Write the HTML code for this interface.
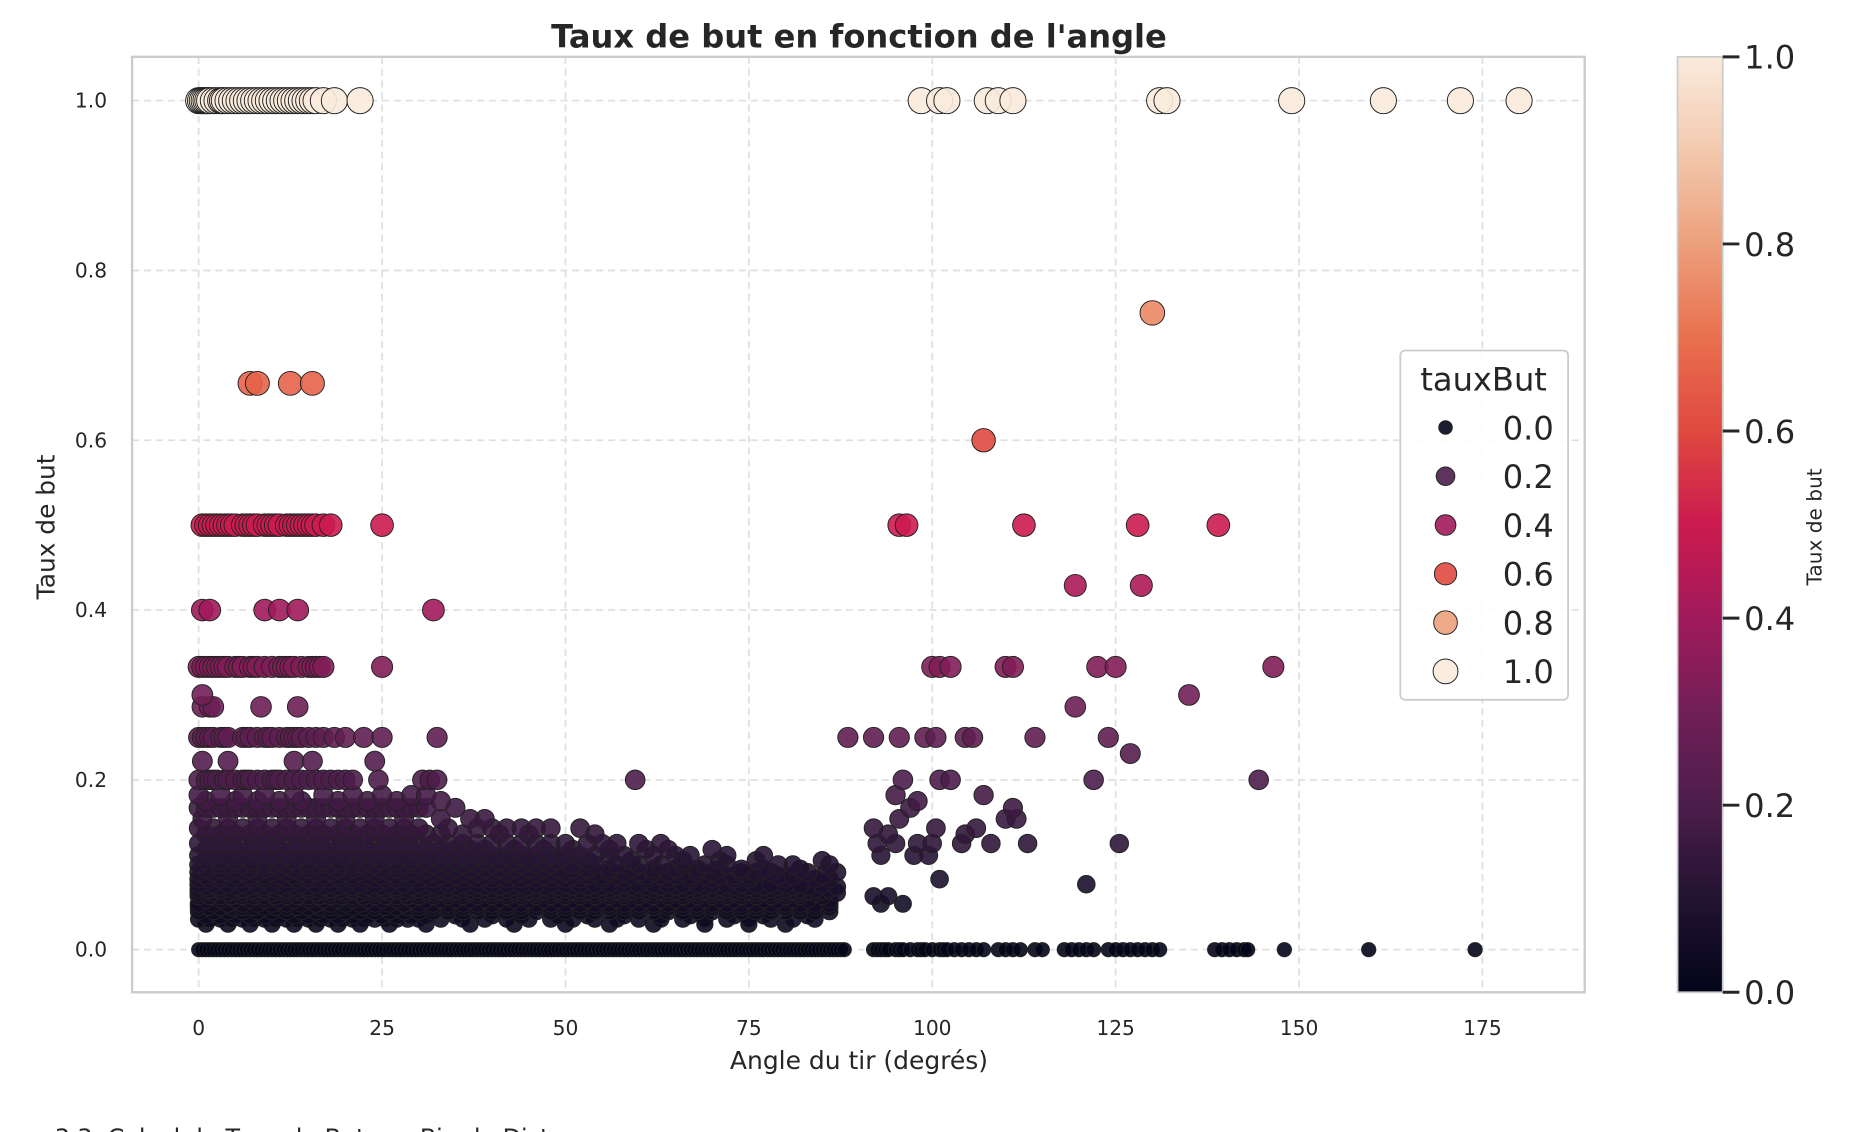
<!DOCTYPE html>
<html><head><meta charset="utf-8"><style>
html,body{margin:0;padding:0;background:#fff;width:1856px;height:1132px;overflow:hidden}
svg text{font-family:"DejaVu Sans","Liberation Sans",sans-serif;fill:#262626}
</style></head><body>
<svg id="chart" width="1856" height="1132" viewBox="0 0 1560 956" preserveAspectRatio="none" xmlns="http://www.w3.org/2000/svg">
<defs>
<linearGradient id="rocket" x1="0" y1="1" x2="0" y2="0">
<stop offset="0" stop-color="#03051a"/><stop offset="0.1" stop-color="#221331"/><stop offset="0.2" stop-color="#4c1d4b"/><stop offset="0.3" stop-color="#711f57"/><stop offset="0.4" stop-color="#a11a5b"/><stop offset="0.5" stop-color="#cb1b4f"/><stop offset="0.6" stop-color="#e0493f"/><stop offset="0.7" stop-color="#e9704f"/><stop offset="0.8" stop-color="#eca07c"/><stop offset="0.9" stop-color="#f3c9ae"/><stop offset="1" stop-color="#faebdd"/>
</linearGradient>
</defs>
<g id="grid"></g>
<g id="points"></g>
<rect x="111" y="48" width="1221" height="790" fill="none" stroke="#cccccc" stroke-width="2"/>
<g id="xticks"></g>
<g id="yticks"></g>
<text x="722" y="40" text-anchor="middle" font-size="27" font-weight="bold">Taux de but en fonction de l'angle</text>
<text x="722" y="903" text-anchor="middle" font-size="21">Angle du tir (degrés)</text>
<text transform="translate(46,445) rotate(-90)" text-anchor="middle" font-size="21">Taux de but</text>
<g id="legend">
<rect x="1177" y="296" width="141" height="295" rx="4" fill="#fff" fill-opacity="0.85" stroke="#cccccc" stroke-width="1.5"/>
<text x="1247" y="330" text-anchor="middle" font-size="27">tauxBut</text>
</g>
<rect x="1410" y="48" width="38" height="790" fill="url(#rocket)" stroke="#cccccc" stroke-width="1.5"/>
<g id="cbticks"></g>
<text transform="translate(1531,445) rotate(-90)" text-anchor="middle" font-size="17">Taux de but</text>
<text x="46" y="968" font-size="20">3.3. Calcul du Taux de But par Bin de Distance</text>
</svg>
<script>
const xTicks=[0,25,50,75,100,125,150,175];
const yTicks=[0,0.2,0.4,0.6,0.8,1.0];
const legendValues=[0,0.2,0.4,0.6,0.8,1.0];
const rateLevels=[1.0,0.75,0.667,0.6,0.5,0.429,0.4,0.333,0.3,0.286,0.25,0.231,0.222,0.2,0.182,0.175,0.167,0.154,0.143,0.136,0.125,0.118,0.111,0.105,0.1,0.095,0.091,0.087,0.083,0.077,0.074,0.071,0.069,0.067,0.063,0.059,0.054,0.05,0.045,0.04,0.036,0.03,0.0];
const anglesByLevel=[
[0,0.25,0.5,0.75,1,1.25,1.5,2,2.5,3,3.25,3.5,4,4.5,5,5.5,6,6.5,7,7.5,8,8.5,9,9.5,10,10.5,11,11.5,12,12.5,13,13.5,14,14.5,15,15.5,16,17,18.5,22,98.5,101,102,107.5,109,111,131,132,149,161.5,172,180],
[130],
[7,8,12.5,15.5],
[107],
[0.5,1,1.5,2,2.5,3,3.5,4,4.5,5,6,6.5,7,7.5,8,9,9.5,10,10.5,11,12,12.5,13,13.5,14,14.5,15,15.5,16,17,18,25,95.5,96.5,112.5,128,139],
[119.5,128.5],
[0.5,1.5,9,11,13.5,32],
[0,0.5,1,1.5,2,2.5,3,3.5,4,5,5.5,6,7,7.5,8,9,10,11,11.5,12,12.5,13,14,15,15.5,16,16.5,17,25,100,101,102.5,110,111,122.5,125,146.5],
[0.5,135],
[0.5,1.5,2,8.5,13.5,119.5],
[0,0.5,1,1.5,2,3,3.5,4,6,6.5,7,8,9,9.5,10,11,12,12.5,13,13.5,14,15,16,17,18.5,20,22.5,25,32.5,88.5,92,95.5,99,100.5,104.5,105.5,114,124],
[127],
[0.5,4,13,15.5,24],
[0,1,1.5,2,2.5,3.5,4,5,6,6.5,7,8,9,10,10.5,11,12,13,14,15,16,17,18,19,20,21,24.5,30.5,31.5,32.5,59.5,96,101,102.5,122,144.5],
[0,3,6,9,13,17,21,25,29,31,95,107],
[1,5,8,11,14,19,23,27,33,98],
[0,1,2,3,4,5,6,7,8,9,10,11,12,13,14,15,16,17,18,19,20,21,22,23,24,25,26,27,28,29,30,31,35,97,111],
[0.5,4,8,12,16,20,24,28,33,37,39,95.5,110,111.5],
[0,2,4,6,8,10,12,14,16,18,20,22,24,26,28,30,34,38,40,42,44,46,48,52,92,100.5,106],
[1,3,5,7,9,11,13,15,17,19,21,23,25,27,29,31,33,36,41,45,54,94,104.5],
[0,1.5,3,4.5,6,7.5,9,10.5,12,13.5,15,16.5,18,19.5,21,22.5,24,25.5,27,28.5,30,32,34,36,38,40,42,44,46,48,50,53,55,57,60,63,92.5,95,98,100,104,108,113,125.5],
[1,3,5,7,9,11,13,15,17,19,21,23,25,27,29,31,33,35,37,39,43,47,51,56,61,64,70],
[0,2,4,6,8,10,12,14,16,18,20,22,24,26,28,30,32,34,36,38,40,42,44,46,48,50,52,54,56,58,62,65,67,72,77,93,97.5,99.5],
[1,3,5,7,9,11,13,15,17,19,21,23,25,27,29,31,33,35,37,39,41,43,45,47,49,53,59,66,71,76,85],
[0,1.5,3,4.5,6,7.5,9,10.5,12,13.5,15,16.5,18,19.5,21,22.5,24,25.5,27,28.5,30,32,34,36,38,40,42,44,46,48,51,54,57,60,63,66,69,72,79,81,86],
[1,3,5,7,9,11,13,15,17,19,21,23,25,27,29,31,33,35,37,39,41,43,45,47,49,51,53,56,59,62,65,68,71,74,77,82],
[0,2,4,6,8,10,12,14,16,18,20,22,24,26,28,30,32,34,36,38,40,42,44,46,48,50,52,54,56,58,60,62,64,66,68,70,74,76,78,83,87],
[1,3,5,7,9,11,13,15,17,19,21,23,25,27,29,31,33,35,37,39,41,43,45,47,49,51,53,55,57,59,61,63,65,67,69,71,73,75,79,81,85],
[0,1.5,3,4.5,6,7.5,9,10.5,12,13.5,15,16.5,18,19.5,21,22.5,24,25.5,27,28.5,30,32,34,36,38,40,42,44,46,48,50,52,55,58,61,64,67,70,73,75,80,84,86,101],
[0,2,4,6,8,10,12,14,16,18,20,22,24,26,28,30,32,34,36,38,40,42,44,46,48,50,52,54,56,58,60,62,64,66,68,70,72,74,76,78,80,82,85,121],
[1,3,5,7,9,11,13,15,17,19,21,23,25,27,29,31,33,35,37,39,41,43,45,47,49,51,53,55,57,59,61,63,65,67,69,71,73,75,77,79,81,83,87],
[0,1.5,3,4.5,6,7.5,9,10.5,12,13.5,15,16.5,18,19.5,21,22.5,24,25.5,27,28.5,30,32,34,36,38,40,42,44,46,48,50,52,54,56,58,60,62,64,66,68,70,72,74,76,78,80,82,84,86],
[1,3,5,7,9,11,13,15,17,19,21,23,25,27,29,31,33,35,37,39,41,43,45,47,49,51,53,55,57,59,61,63,65,67,69,71,73,75,77,79,81,83,85],
[0,2,4,6,8,10,12,14,16,18,20,22,24,26,28,30,32,34,36,38,40,42,44,46,48,50,52,54,56,58,60,62,64,66,68,70,72,74,76,78,80,82,84,87],
[0,1.5,3,4.5,6,7.5,9,10.5,12,13.5,15,16.5,18,19.5,21,22.5,24,25.5,27,28.5,30,32,34,36,38,40,42,44,46,48,50,52,54,56,58,60,62,64,66,68,70,72,74,76,78,80,82,85,92,94],
[1,3,5,7,9,11,13,15,17,19,21,23,25,27,29,31,33,35,37,39,41,43,45,47,49,51,53,55,57,59,61,63,65,67,69,71,73,75,77,79,81,83,86],
[0,2,4,6,8,10,12,14,16,18,20,22,24,26,28,30,32,34,36,38,40,42,44,46,48,50,52,54,56,58,60,62,64,66,68,70,72,74,76,78,80,82,84,86,93,96],
[0,1.5,3,4.5,6,7.5,9,10.5,12,13.5,15,16.5,18,19.5,21,22.5,24,25.5,27,28.5,30,32,34,36,38,40,42,44,46,48,50,52,54,56,58,60,62,64,66,68,70,72,74,76,78,80,82,84,86],
[0,2,4,6,8,10,12,14,16,18,20,22,24,26,28,30,32,34,36,38,40,42,44,46,48,50,52,54,56,58,60,62,64,66,68,70,72,74,76,78,80,82,84,86],
[1,3,5,7,9,11,13,15,17,19,21,23,25,27,29,31,35,40,44,49,53,58,63,67,73,77,83],
[0,1.5,3,4.5,6,7.5,9,10.5,12,13.5,15,16.5,18,19.5,21,22.5,24,25.5,27,28.5,30,33,36,39,42,45,48,51,54,57,60,63,66,69,72,75,78,81,84],
[1,4,7,10,13,16,19,22,26,31,37,43,50,56,62,69,75,80],
[0,0.5,1,1.5,2,2.5,3,3.5,4,4.5,5,5.5,6,6.5,7,7.5,8,8.5,9,9.5,10,10.5,11,11.5,12,12.5,13,13.5,14,14.5,15,15.5,16,16.5,17,17.5,18,18.5,19,19.5,20,20.5,21,21.5,22,22.5,23,23.5,24,24.5,25,25.5,26,26.5,27,27.5,28,28.5,29,29.5,30,30.5,31,31.5,32,32.5,33,33.5,34,34.5,35,35.5,36,36.5,37,37.5,38,38.5,39,39.5,40,40.5,41,41.5,42,42.5,43,43.5,44,44.5,45,45.5,46,46.5,47,47.5,48,48.5,49,49.5,50,50.5,51,51.5,52,52.5,53,53.5,54,54.5,55,55.5,56,56.5,57,57.5,58,58.5,59,59.5,60,60.5,61,61.5,62,62.5,63,63.5,64,64.5,65,65.5,66,66.5,67,67.5,68,68.5,69,69.5,70,70.5,71,71.5,72,72.5,73,73.5,74,74.5,75,75.5,76,76.5,77,77.5,78,78.5,79,79.5,80,80.5,81,81.5,82,82.5,83,83.5,84,84.5,85,85.5,86,86.5,87,87.5,88,92,92.5,93,93.5,94,95,95.5,96,97,98,98.5,99,100,101,101.5,102,103,104,105,106,107,109,110,111,112,114,115,118,119,120,121,122,124,125,126,127,128,129,130,131,138.5,139.5,140.5,141.5,142.5,143,148,159.5,174]
];
const NS="http://www.w3.org/2000/svg";
const X0=111,X1=1332,Y0=48,Y1=838;
function xs(a){return 167+a*(1246-167)/175;}
function ys(v){return 802-v*(802-85);}
const stops=[[0,[3,5,26]],[0.1,[34,19,49]],[0.2,[76,29,75]],[0.3,[113,31,87]],[0.4,[161,26,91]],[0.5,[203,27,79]],[0.6,[224,73,63]],[0.7,[233,112,79]],[0.8,[236,160,124]],[0.9,[243,201,174]],[1,[250,235,221]]];
function color(v){for(let i=1;i<stops.length;i++){if(v<=stops[i][0]){const a=stops[i-1],b=stops[i],t=(v-a[0])/(b[0]-a[0]);const c=a[1].map((x,k)=>Math.round(x+(b[1][k]-x)*t));return `rgb(${c[0]},${c[1]},${c[2]})`;}}return 'rgb(250,235,221)';}
function radius(v){return 6+5*Math.sqrt(v);}
function mk(tag,attrs,parent){const e=document.createElementNS(NS,tag);for(const k in attrs)e.setAttribute(k,attrs[k]);parent.appendChild(e);return e;}
const grid=document.getElementById('grid');
xTicks.forEach(t=>{const l=mk('line',{x1:xs(t),x2:xs(t),y1:Y0,y2:Y1,stroke:'#e0e0e0','stroke-width':1.5,'stroke-dasharray':'6,4'},grid);


const tx=mk('text',{x:xs(t),y:874,'text-anchor':'middle','font-size':17},document.getElementById('xticks'));tx.textContent=t;

});
yTicks.forEach(t=>{const l=mk('line',{x1:X0,x2:X1,y1:ys(t),y2:ys(t),stroke:'#e0e0e0','stroke-width':1.5,'stroke-dasharray':'6,4'},grid);


const tx=mk('text',{x:90,y:ys(t)+6,'text-anchor':'end','font-size':17},document.getElementById('yticks'));tx.textContent=t.toFixed(1);

});
const pts=document.getElementById('points');
for(let i=rateLevels.length-1;i>=0;i--){const v=rateLevels[i];(anglesByLevel[i]||[]).forEach(a=>{const c=mk('circle',{cx:xs(a),cy:ys(v),r:radius(v),fill:color(v),'fill-opacity':0.9,stroke:'#222','stroke-width':0.8},pts);

});}
const lg=document.getElementById('legend');
legendValues.forEach((v,i)=>{const y=361+i*41.2;const c=mk('circle',{cx:1215,cy:y,r:radius(v)*0.95,fill:color(v),'fill-opacity':0.9,stroke:'#222','stroke-width':0.8},lg);


const t=mk('text',{x:1306,y:y+10,'text-anchor':'end','font-size':27},lg);t.textContent=v.toFixed(1);

});
const cb=document.getElementById('cbticks');
legendValues.forEach(v=>{const y=838-v*790;const l=mk('line',{x1:1448,x2:1462,y1:y,y2:y,stroke:'#262626','stroke-width':2.5},cb);


const t=mk('text',{x:1466,y:y+10,'font-size':27},cb);t.textContent=v.toFixed(1);

});
</script>
</body></html>
